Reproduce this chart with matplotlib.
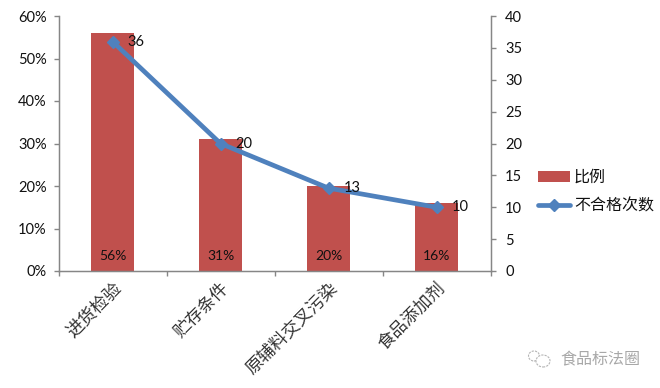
import matplotlib
matplotlib.use("Agg")
import matplotlib.pyplot as plt
from matplotlib.lines import Line2D
from matplotlib.patches import Patch, Ellipse

plt.rcParams['font.family'] = ['Lato', 'Noto Sans CJK SC', 'DejaVu Sans']

categories = ['进货检验', '贮存条件', '原辅料交叉污染', '食品添加剂']
ratio = [56, 31, 20, 16]
counts = [36, 20, 13, 10]
left_ticks = [0, 10, 20, 30, 40, 50, 60]
right_ticks = [0, 5, 10, 15, 20, 25, 30, 35, 40]
series_names = ['比例', '不合格次数']
watermark = '食品标法圈'

W, H = 660, 388
L, R, T, B = 58.5, 490.5, 16, 271
fig = plt.figure(figsize=(W/100, H/100), dpi=100)
ax = fig.add_axes([L/W, 1-B/H, (R-L)/W, (B-T)/H])
GREY = '#868686'
RED = '#C0504D'
BLUE = '#4F81BD'

x = list(range(len(categories)))
ax.bar(x, ratio, width=0.4, color=RED, zorder=2)
ax.set_xlim(-0.5, 3.5)
ax.set_ylim(0, 60)
ax.set_yticks(left_ticks, [f'{v}%' for v in left_ticks], fontsize=10.5, color='#111111')
ax.set_xticks([-0.5, 0.5, 1.5, 2.5, 3.5], [''] * 5)
ax.tick_params(axis='both', color=GREY, length=3.5, width=1)
ax.tick_params(axis='y', pad=5)
for xi, v in zip(x, ratio):
    ax.text(xi, 3.6, f'{v}%', ha='center', va='center', fontsize=10, color='#111111', zorder=5)
for xi, c in zip(x, categories):
    ax.annotate(c, xy=(xi, 0), xycoords=('data', 'axes fraction'), xytext=(0, -6),
                textcoords='offset points', rotation=45, rotation_mode='anchor',
                ha='right', va='top', fontsize=12.5, color='#333333')
ax.spines['top'].set_visible(False)
for s in ['left', 'bottom', 'right']:
    ax.spines[s].set_color(GREY)
    ax.spines[s].set_linewidth(1)

ax2 = ax.twinx()
ax2.plot(x, counts, color=BLUE, lw=3.4, marker='D', ms=6, solid_capstyle='round', zorder=4)
ax2.set_ylim(0, 40)
ax2.set_yticks(right_ticks, [str(v) for v in right_ticks], fontsize=10.5, color='#111111')
ax2.tick_params(axis='y', color=GREY, length=3.5, width=1, pad=7)
ax2.spines['top'].set_visible(False)
for s in ['left', 'bottom', 'right']:
    ax2.spines[s].set_color(GREY)
for xi, v in zip(x, counts):
    ax2.annotate(str(v), xy=(xi, v), xytext=(11, 0), textcoords='offset points',
                 ha='left', va='center', fontsize=10.5, color='#111111', zorder=6)

handles = [Patch(facecolor=RED, edgecolor='none'),
           Line2D([0], [0], color=BLUE, lw=3.4, marker='D', ms=6, solid_capstyle='round')]
fig.legend(handles, series_names, loc='center left', bbox_to_anchor=(538/W, 1-192/H),
           frameon=False, fontsize=11.5, handlelength=2.0, handletextpad=0.25,
           labelspacing=0.85, borderpad=0, borderaxespad=0, labelcolor='#111111')

fig.text(560/W, 1-360/H, watermark, fontsize=11.5, color='#A8A8A8', ha='left', va='center')
for cx, cy, w, h in [(534, 356, 11, 10), (543, 361, 14, 12)]:
    fig.add_artist(Ellipse((cx/W, 1-cy/H), w/W, h/H, transform=fig.transFigure,
                           facecolor='white', edgecolor='#B5B5B5', lw=0.8, ls=(0, (2, 1))))
fig.savefig('out.png', dpi=100, facecolor='white')
